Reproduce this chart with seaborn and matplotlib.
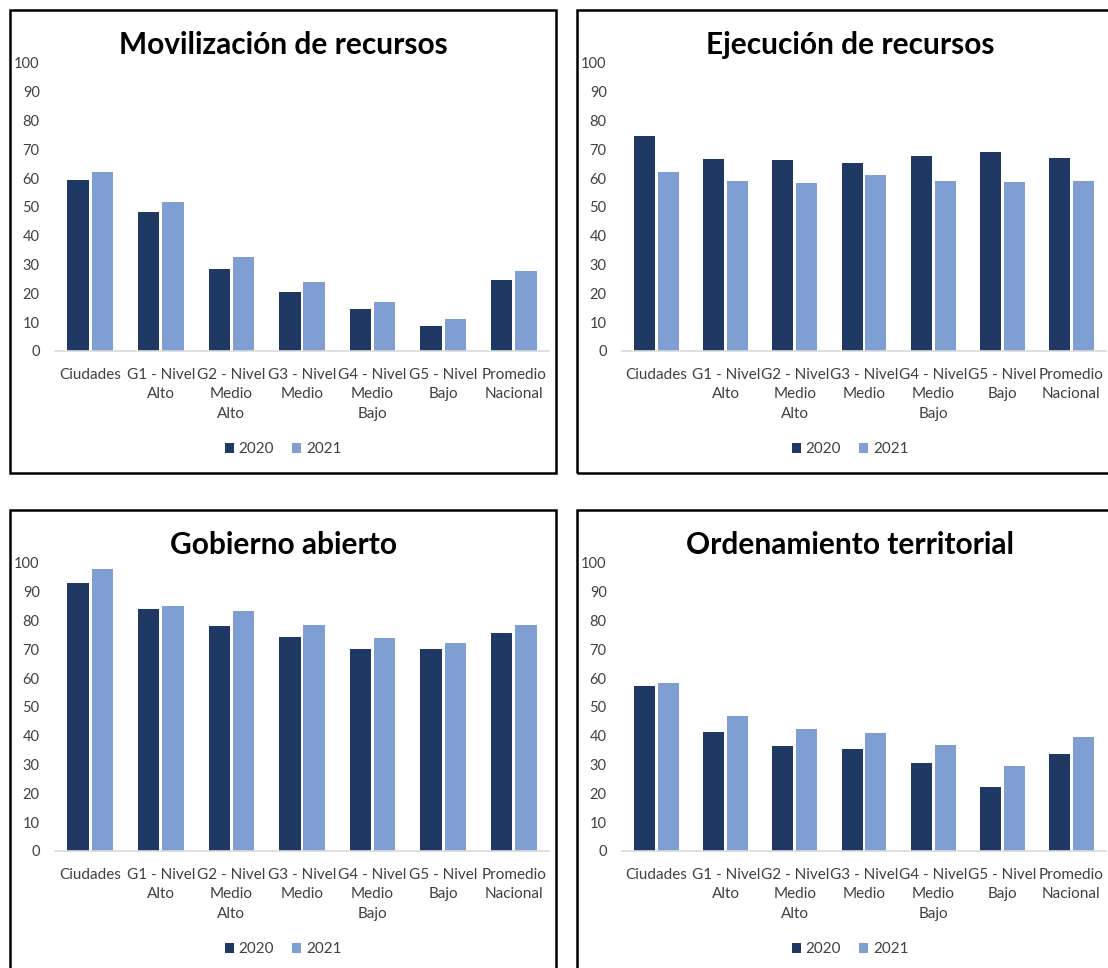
import pandas as pd
import matplotlib.pyplot as plt
import seaborn as sns
from matplotlib.patches import Rectangle

plt.switch_backend('Agg')

categories = ["Ciudades", "G1 - Nivel\nAlto", "G2 - Nivel\nMedio\nAlto", "G3 - Nivel\nMedio",
              "G4 - Nivel\nMedio\nBajo", "G5 - Nivel\nBajo", "Promedio\nNacional"]
years = ["2020", "2021"]

movilizacion_2020 = [59.3, 48.3, 28.6, 20.5, 14.6, 8.6, 24.6]
movilizacion_2021 = [62.1, 51.6, 32.6, 24.0, 17.0, 11.1, 27.7]
ejecucion_2020 = [74.5, 66.6, 66.4, 65.2, 67.6, 69.1, 67.0]
ejecucion_2021 = [62.3, 59.0, 58.2, 61.2, 59.2, 58.6, 59.2]
gobierno_2020 = [93.0, 84.2, 78.0, 74.4, 70.3, 70.0, 75.7]
gobierno_2021 = [97.9, 85.1, 83.2, 78.3, 73.8, 72.2, 78.6]
ordenamiento_2020 = [57.3, 41.3, 36.5, 35.3, 30.6, 22.2, 33.6]
ordenamiento_2021 = [58.4, 46.9, 42.3, 41.1, 36.8, 29.4, 39.6]

titles = ["Movilización de recursos", "Ejecución de recursos", "Gobierno abierto", "Ordenamiento territorial"]
series = [(movilizacion_2020, movilizacion_2021), (ejecucion_2020, ejecucion_2021),
          (gobierno_2020, gobierno_2021), (ordenamiento_2020, ordenamiento_2021)]

palette = {"2020": "#203864", "2021": "#7F9FD3"}

sns.set_theme(style="white")
plt.rcParams['font.family'] = ['Lato', 'DejaVu Sans']

W, H = 1108, 968
fig = plt.figure(figsize=(W / 100, H / 100), dpi=100)

# panel boxes (px): top-left corner of each box; right column boxes run past the figure edge
boxes = [(10, 10), (577, 10), (10, 510), (577, 510)]
box_w, box_h = 546, 463

for (bx, by), title, (v20, v21) in zip(boxes, titles, series):
    df = pd.DataFrame({
        "categoria": categories * 2,
        "anio": [years[0]] * len(categories) + [years[1]] * len(categories),
        "valor": list(v20) + list(v21),
    })
    ax_x0 = bx + 45
    ax_top = by + 53
    ax_bot = by + 341
    # right column plot area squeezed a little so the last label stays inside the picture
    ax_w = 494 if bx < 500 else 484
    ax = fig.add_axes([ax_x0 / W, 1 - ax_bot / H, ax_w / W, (ax_bot - ax_top) / H])
    sns.barplot(data=df, x="categoria", y="valor", hue="anio", palette=palette,
                width=0.69, gap=0.12, linewidth=0, saturation=1, ax=ax)
    ax.set_ylim(0, 100)
    ax.set_yticks(range(0, 101, 10))
    ax.set_xlim(-0.5, len(categories) - 0.5)
    ax.set_xlabel("")
    ax.set_ylabel("")
    for s in ["top", "right", "left"]:
        ax.spines[s].set_visible(False)
    ax.spines["bottom"].set_color("#D9D9D9")
    ax.spines["bottom"].set_linewidth(1.2)
    ax.tick_params(axis="y", length=0, pad=11, labelsize=10.5, labelcolor="#404040")
    ax.tick_params(axis="x", length=0, pad=12, labelsize=11, labelcolor="#404040")
    for lbl in ax.get_xticklabels():
        lbl.set_linespacing(1.5)
        lbl.set_verticalalignment("top")

    cx = (bx + box_w / 2 - ax_x0) / ax_w
    sns.move_legend(ax, "center", bbox_to_anchor=(cx, -0.342), ncol=2, frameon=False,
                    title=None, fontsize=11, handlelength=0.6, handleheight=0.6,
                    handletextpad=0.3, columnspacing=1.2)
    for t in ax.get_legend().get_texts():
        t.set_color("#404040")

    fig.text((bx + box_w / 2) / W, 1 - (by + 35) / H, title, ha="center", va="center",
             fontsize=21.5, fontweight="bold", color="black")
    fig.patches.append(Rectangle((bx / W, 1 - (by + box_h) / H), box_w / W, box_h / H,
                                 transform=fig.transFigure, fill=False, edgecolor="black",
                                 linewidth=1.8))

fig.savefig("out.png", dpi=100, facecolor="white")
